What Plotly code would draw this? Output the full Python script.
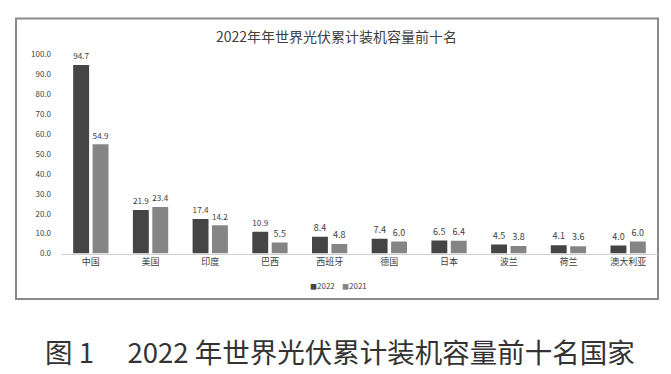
import plotly.graph_objects as go

countries = ["中国", "美国", "印度", "巴西", "西班牙", "德国", "日本", "波兰", "荷兰", "澳大利亚"]
values_2022 = [94.7, 21.9, 17.4, 10.9, 8.4, 7.4, 6.5, 4.5, 4.1, 4.0]
values_2021 = [54.9, 23.4, 14.2, 5.5, 4.8, 6.0, 6.4, 3.8, 3.6, 6.0]
y_ticks = [0, 10, 20, 30, 40, 50, 60, 70, 80, 90, 100]
series_names = ["2022", "2021"]
series_colors = ["#454545", "#858585"]

W, H = 671, 374
FONT = "Noto Sans CJK SC"

def px(x):
    return x / W

def py(y):
    return 1 - y / H

fig = go.Figure()
for name, vals, col in zip(series_names, [values_2022, values_2021], series_colors):
    fig.add_trace(go.Bar(
        name=name, x=countries, y=vals,
        marker=dict(color=col, line=dict(width=0)),
        texttemplate="%{y:.1f}", textposition="outside",
        textfont=dict(size=9, color="#404040", family=FONT),
        cliponaxis=False, showlegend=False,
    ))

legend_annots = []
for name, col, xc in zip(series_names, series_colors, [322, 354]):
    legend_annots.append(dict(
        text=f"<span style='font-size:7px;color:{col}'>■</span>{name}",
        xref="paper", yref="paper", x=px(xc), y=py(288),
        xanchor="center", yanchor="middle", showarrow=False,
        font=dict(size=8, color="#404040", family=FONT)))

fig.update_layout(
    width=W, height=H,
    margin=dict(l=0, r=0, t=0, b=0),
    paper_bgcolor="white", plot_bgcolor="white",
    font=dict(family=FONT, color="#404040"),
    barmode="group", bargap=0.35, bargroupgap=0.18,
    showlegend=False,
    xaxis=dict(domain=[px(61), px(658)], showline=True, linecolor="#d0d0d0", linewidth=1,
               ticks="", tickfont=dict(size=9, color="#404040"), showgrid=False, zeroline=False,
               fixedrange=True),
    yaxis=dict(domain=[py(255), py(50)], range=[0, 100], tickvals=y_ticks,
               tickformat=".1f", showgrid=False, zeroline=False, showline=False,
               tickfont=dict(size=8, color="#404040"), ticklabelstandoff=9, fixedrange=True),
    shapes=[dict(type="rect", xref="paper", yref="paper",
                 x0=px(16), x1=px(658), y0=py(302), y1=py(13),
                 line=dict(color="#8a8a8a", width=2), fillcolor="rgba(0,0,0,0)", layer="below")],
    annotations=[
        dict(text="2022年年世界光伏累计装机容量前十名", xref="paper", yref="paper",
             x=px(336), y=py(31), xanchor="center", yanchor="middle", showarrow=False,
             font=dict(size=14, color="#404040", family=FONT)),
        dict(text="图 1\u3000 2022 年世界光伏累计装机容量前十名国家", xref="paper", yref="paper",
             x=px(340), y=py(355), xanchor="center", yanchor="middle", showarrow=False,
             font=dict(size=27.5, color="#333333", family=FONT)),
    ] + legend_annots,
)

fig.write_html("out.html", config={"displayModeBar": False},
               post_script="document.body.style.margin='0';document.body.style.overflow='hidden';")
